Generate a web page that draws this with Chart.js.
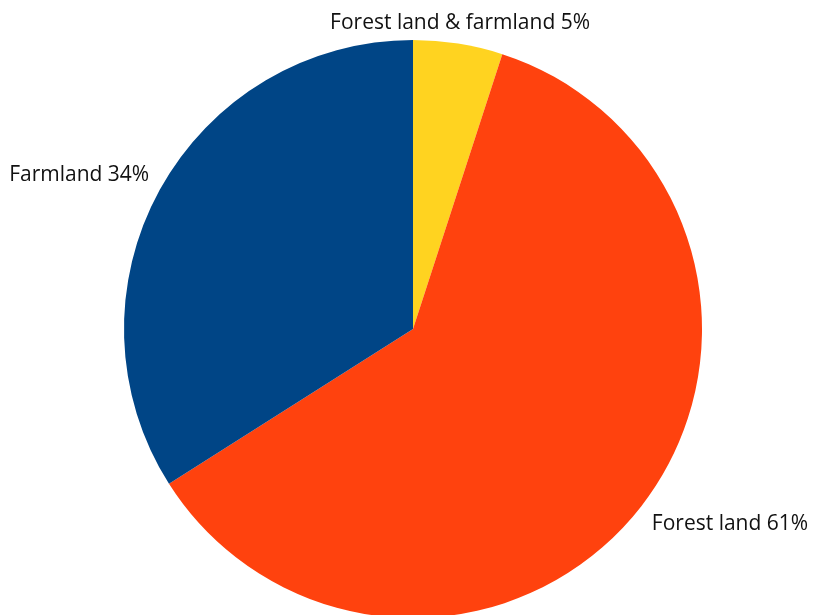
<!DOCTYPE html>
<html>
<head>
<meta charset="utf-8">
<script src="https://cdn.jsdelivr.net/npm/chart.js@4"></script>
<style>
  html, body { margin: 0; padding: 0; background: #fff; overflow: hidden; }
  #box { position: relative; width: 814px; height: 620px; }
</style>
</head>
<body>
<div id="box"><canvas id="grafico"></canvas></div>
<script>
const categorie = ['Forest land & farmland', 'Forest land', 'Farmland'];
const valori = [5, 61, 34];
const colori = ['#ffd320', '#ff420e', '#004586'];

// etichette fuori dalla torta, come nell'originale
const etichettePlugin = {
    id: 'etichette',
    afterDraw(chart) {
        const ctx = chart.ctx;
        const arcs = chart.getDatasetMeta(0).data;
        ctx.save();
        ctx.font = '21px "Open Sans", sans-serif';
        ctx.fillStyle = '#111';
        ctx.textBaseline = 'alphabetic';
        arcs.forEach((arc, i) => {
            const p = arc.getProps(['x', 'y', 'startAngle', 'endAngle', 'outerRadius'], true);
            const a = (p.startAngle + p.endAngle) / 2;
            const r = p.outerRadius + 12;
            const dx = Math.cos(a), dy = Math.sin(a);
            const x = p.x + dx * r, y = p.y + dy * r;
            ctx.textAlign = Math.abs(dx) < 0.3 ? 'center' : (dx > 0 ? 'left' : 'right');
            const base = dy < 0 ? y - 3 : y + 17;
            ctx.fillText(categorie[i] + ' ' + valori[i] + '%', x + (dx > 0.3 ? 1 : 0), base);
        });
        ctx.restore();
    }
};

new Chart(document.getElementById('grafico'), {
    type: 'pie',
    data: {
        labels: categorie,
        datasets: [{
            data: valori,
            backgroundColor: colori,
            borderWidth: 0
        }]
    },
    options: {
        responsive: true,
        maintainAspectRatio: false,
        animation: false,
        layout: { padding: { top: 40, bottom: 2, left: 124, right: 112 } },
        plugins: {
            legend: { display: false },
            tooltip: { enabled: false }
        }
    },
    plugins: [etichettePlugin]
});
</script>
</body>
</html>
